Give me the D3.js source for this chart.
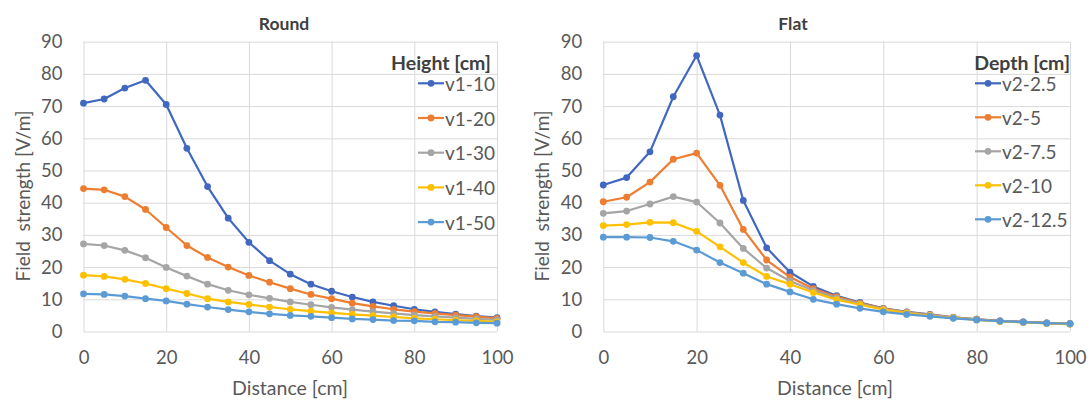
<!DOCTYPE html>
<html>
<head>
<meta charset="utf-8">
<script src="https://cdn.jsdelivr.net/npm/d3@7"></script>
<style>
  html, body { margin: 0; padding: 0; background: #fff; }
  svg { display: block; font-family: Lato, "Open Sans", sans-serif; }
</style>
</head>
<body>
<svg id="chart" width="1091" height="403"></svg>
<script>
// ---------- data ----------
const distance = [0, 5, 10, 15, 20, 25, 30, 35, 40, 45, 50, 55, 60, 65, 70, 75, 80, 85, 90, 95, 100];
const xTicks = [0, 20, 40, 60, 80, 100];
const yTicks = [0, 10, 20, 30, 40, 50, 60, 70, 80, 90];

const roundNames = ["v1-10", "v1-20", "v1-30", "v1-40", "v1-50"];
const roundV1_10 = [70.9, 72.2, 75.6, 78.0, 70.5, 56.9, 45.0, 35.2, 27.7, 22.0, 17.8, 14.7, 12.5, 10.7, 9.2, 8.0, 6.9, 6.1, 5.4, 4.8, 4.3];
const roundV1_20 = [44.4, 44.0, 41.9, 37.9, 32.3, 26.7, 23.0, 20.0, 17.4, 15.3, 13.3, 11.5, 10.2, 8.8, 7.8, 6.9, 6.2, 5.6, 5.1, 4.6, 4.1];
const roundV1_30 = [27.2, 26.7, 25.2, 22.9, 19.9, 17.2, 14.7, 12.8, 11.4, 10.3, 9.2, 8.3, 7.5, 6.8, 6.2, 5.6, 5.1, 4.7, 4.3, 3.9, 3.6];
const roundV1_40 = [17.5, 17.1, 16.2, 14.9, 13.3, 11.8, 10.2, 9.2, 8.4, 7.6, 6.9, 6.3, 5.8, 5.3, 4.9, 4.5, 4.1, 3.8, 3.5, 3.3, 3.0];
const roundV1_50 = [11.7, 11.5, 11.0, 10.2, 9.5, 8.5, 7.6, 6.8, 6.1, 5.5, 5.0, 4.7, 4.3, 3.9, 3.7, 3.4, 3.3, 3.0, 2.9, 2.7, 2.6];

const flatNames = ["v2-2.5", "v2-5", "v2-7.5", "v2-10", "v2-12.5"];
const flatV2_2_5 = [45.5, 47.8, 55.8, 72.9, 85.7, 67.2, 40.7, 26.0, 18.4, 14.0, 11.1, 9.0, 7.2, 6.1, 5.3, 4.4, 3.8, 3.3, 3.0, 2.7, 2.4];
const flatV2_5 = [40.3, 41.7, 46.4, 53.5, 55.4, 45.4, 31.7, 22.2, 16.9, 13.3, 10.8, 8.8, 7.1, 6.0, 5.2, 4.4, 3.8, 3.3, 3.0, 2.7, 2.4];
const flatV2_7_5 = [36.7, 37.4, 39.6, 41.9, 40.2, 33.7, 25.8, 19.7, 15.7, 12.7, 10.4, 8.6, 7.0, 5.9, 5.1, 4.3, 3.7, 3.2, 2.9, 2.6, 2.3];
const flatV2_10 = [32.9, 33.2, 33.9, 33.8, 31.1, 26.3, 21.4, 17.1, 14.7, 12.1, 9.9, 8.3, 6.8, 5.7, 4.9, 4.2, 3.6, 3.1, 2.8, 2.5, 2.3];
const flatV2_12_5 = [29.3, 29.3, 29.2, 28.0, 25.3, 21.4, 18.1, 14.7, 12.3, 10.0, 8.5, 7.2, 6.1, 5.3, 4.7, 4.1, 3.6, 3.2, 2.9, 2.6, 2.4];

const seriesColors = ["#4168C0", "#ED7D31", "#A5A5A5", "#FFC000", "#5B9BD5"];

// ---------- drawing ----------
const svg = d3.select("#chart");

function drawPanel(opt) {
  const x = d3.scaleLinear().domain([0, 100]).range([opt.left, opt.right]);
  const y = d3.scaleLinear().domain([0, 90]).range([331.5, 41.7]);
  const g = svg.append("g");

  // gridlines
  g.append("g")
    .attr("transform", `translate(${opt.left},0)`)
    .call(d3.axisLeft(y).tickValues(yTicks).tickSize(-(opt.right - opt.left)).tickFormat(""))
    .call(a => a.select(".domain").remove())
    .call(a => a.selectAll("line").attr("stroke", "#D9D9D9").attr("stroke-width", 1));
  g.append("g")
    .attr("transform", `translate(0,${y(0)})`)
    .call(d3.axisBottom(x).tickValues(xTicks).tickSize(-(y(0) - y(90))).tickFormat(""))
    .call(a => a.select(".domain").remove())
    .call(a => a.selectAll("line").attr("stroke", "#D9D9D9").attr("stroke-width", 1));

  // y tick labels
  g.append("g")
    .attr("transform", `translate(${opt.left},0)`)
    .call(d3.axisLeft(y).tickValues(yTicks).tickSize(0).tickPadding(21))
    .call(a => a.select(".domain").remove())
    .call(a => a.selectAll("text").attr("fill", "#595959").attr("font-size", 18.5).attr("font-family", "Lato, sans-serif"));
  // x tick labels
  g.append("g")
    .attr("transform", `translate(0,${y(0)})`)
    .call(d3.axisBottom(x).tickValues(xTicks).tickSize(0).tickPadding(19))
    .call(a => a.select(".domain").remove())
    .call(a => a.selectAll("text").attr("fill", "#595959").attr("font-size", 18.5).attr("font-family", "Lato, sans-serif"));

  // lines and markers
  const line = d3.line().x((d, i) => x(distance[i])).y(d => y(d));
  opt.series.forEach((vals, si) => {
    g.append("path").datum(vals)
      .attr("d", line).attr("fill", "none")
      .attr("stroke", seriesColors[si]).attr("stroke-width", 2.2)
      .attr("stroke-linejoin", "round");
    g.append("g").selectAll("circle").data(vals).join("circle")
      .attr("cx", (d, i) => x(distance[i])).attr("cy", d => y(d))
      .attr("r", 3.4).attr("fill", seriesColors[si]);
  });

  // title
  g.append("text").attr("x", opt.titleX).attr("y", 23)
    .attr("text-anchor", "middle").attr("dominant-baseline", "central")
    .attr("font-size", 17.5).attr("font-weight", "bold").attr("fill", "#404040")
    .text(opt.title);
  // x axis title
  g.append("text").attr("x", opt.xTitleX).attr("y", 387)
    .attr("text-anchor", "middle").attr("dominant-baseline", "central")
    .attr("font-size", 19.5).attr("fill", "#595959")
    .text("Distance [cm]");
  // y axis title
  g.append("text")
    .attr("transform", `translate(${opt.yTitleX},196) rotate(-90)`)
    .attr("text-anchor", "middle").attr("dominant-baseline", "central")
    .attr("font-size", 19).attr("fill", "#595959")
    .style("white-space", "pre")
    .text("Field  strength [V/m]");

  // legend
  const lg = g.append("g");
  lg.append("text").attr("x", opt.legendRight).attr("y", 62)
    .attr("text-anchor", "end").attr("dominant-baseline", "central")
    .attr("font-size", 19.5).attr("font-weight", "bold").attr("fill", "#404040")
    .text(opt.legendTitle);
  opt.names.forEach((nm, i) => {
    const cy = 83.3 + i * opt.legendStep;
    lg.append("line").attr("x1", opt.legendLineX).attr("x2", opt.legendLineX + 26)
      .attr("y1", cy).attr("y2", cy).attr("stroke", seriesColors[i]).attr("stroke-width", 2.2);
    lg.append("circle").attr("cx", opt.legendLineX + 13).attr("cy", cy).attr("r", 3.4).attr("fill", seriesColors[i]);
    lg.append("text").attr("x", opt.legendLineX + 27).attr("y", cy)
      .attr("dominant-baseline", "central")
      .attr("font-size", 19).attr("fill", "#595959").text(nm);
  });
}

drawPanel({
  left: 83.5, right: 497, title: "Round", titleX: 284, xTitleX: 290, yTitleX: 22,
  series: [roundV1_10, roundV1_20, roundV1_30, roundV1_40, roundV1_50],
  names: roundNames, legendTitle: "Height [cm]", legendRight: 491, legendLineX: 418, legendStep: 34.7
});
drawPanel({
  left: 603.3, right: 1070, title: "Flat", titleX: 793, xTitleX: 835, yTitleX: 541,
  series: [flatV2_2_5, flatV2_5, flatV2_7_5, flatV2_10, flatV2_12_5],
  names: flatNames, legendTitle: "Depth [cm]", legendRight: 1070, legendLineX: 975, legendStep: 34
});
</script>
</body>
</html>
